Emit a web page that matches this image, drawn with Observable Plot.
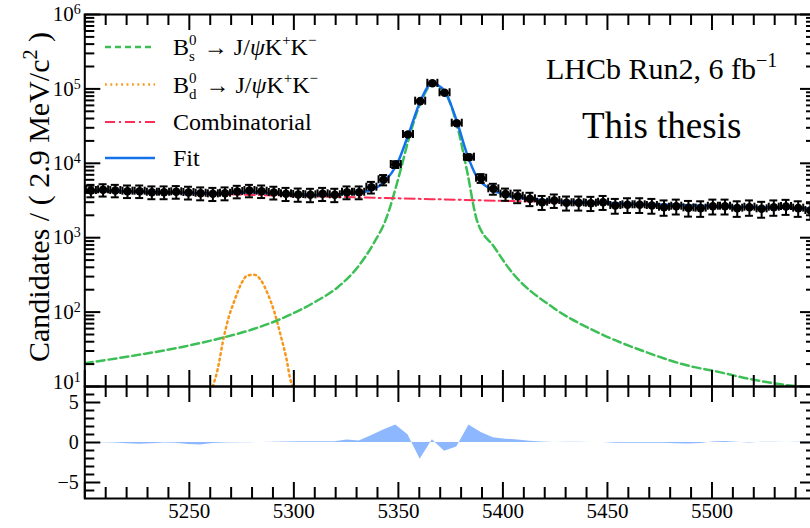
<!DOCTYPE html>
<html>
<head>
<meta charset="utf-8">
<script src="https://cdn.jsdelivr.net/npm/d3@7"></script>
<script src="https://cdn.jsdelivr.net/npm/@observablehq/plot@0.6"></script>
<style>
  html, body { margin: 0; padding: 0; background: #fff; }
  #chart { position: relative; width: 810px; height: 528px; overflow: hidden; background: #fff; }
  #overlay { position: absolute; left: 0; top: 0; pointer-events: none; }
</style>
</head>
<body>
<div id="chart"></div>
<script>
// ---- Binned candidates (bin centres in MeV/c^2) ----
const binCenters = [
  5202.92, 5208.75, 5214.58, 5220.42, 5226.25, 5232.08, 5237.92, 5243.75, 5249.58, 5255.42,
  5261.25, 5267.08, 5272.92, 5278.75, 5284.58, 5290.42, 5296.25, 5302.08, 5307.92, 5313.75,
  5319.58, 5325.42, 5331.25, 5337.08, 5342.92, 5348.75, 5354.58, 5360.42, 5366.25, 5372.08,
  5377.92, 5383.75, 5389.58, 5395.42, 5401.25, 5407.08, 5412.92, 5418.75, 5424.58, 5430.42,
  5436.25, 5442.08, 5447.92, 5453.75, 5459.58, 5465.42, 5471.25, 5477.08, 5482.92, 5488.75,
  5494.58, 5500.42, 5506.25, 5512.08, 5517.92, 5523.75, 5529.58, 5535.42, 5541.25, 5547.08
];
const counts = [
  4310, 4400, 4310, 4220, 4220, 4090, 4090, 4140, 4050, 3960,
  3890, 3960, 4180, 4310, 4220, 4050, 3890, 3810, 3770, 3890,
  3775, 4085, 4085, 4775, 6000, 9640, 24400, 68400, 119000, 88700,
  34600, 12080, 6300, 4540, 3850, 3610, 3335, 3000, 3160, 2945,
  2945, 2910, 3000, 2710, 2770, 2770, 2710, 2570, 2650, 2520,
  2495, 2650, 2650, 2495, 2570, 2445, 2570, 2625, 2495, 2320
];
const countErrors = [
  820, 830, 820, 810, 810, 800, 800, 800, 790, 780,
  780, 780, 800, 820, 810, 790, 780, 770, 770, 780,
  770, 800, 800, 850, 950, 1000, 1300, 1700, 1900, 1800,
  1400, 1000, 850, 760, 720, 700, 680, 640, 650, 630,
  630, 630, 640, 610, 620, 620, 610, 600, 600, 600,
  590, 600, 600, 590, 600, 590, 600, 600, 590, 580
];
const pulls = [
  0.0, -0.02, -0.06, -0.15, -0.22, -0.15, -0.05, -0.1, -0.25, -0.3,
  -0.12, -0.06, -0.04, -0.02, 0.0, 0.04, 0.06, 0.08, 0.1, 0.08,
  0.1, 0.3, 0.2, 0.84, 1.55, 2.2, 0.96, -2.1, 0.34, -1.1,
  -0.55, 2.2, 1.25, 0.6, 0.42, 0.3, 0.15, 0.05, 0.0, 0.02,
  0.02, 0.0, 0.0, -0.08, -0.1, -0.1, -0.08, -0.1, -0.15, -0.2,
  -0.12, 0.05, 0.12, 0.02, -0.05, 0.03, 0.02, 0.0, 0.03, 0.05
];
const binHalfWidthShown = 2.4;

// ---- Fit components (mass, candidates) ----
const bsMass  = [5200, 5223.8, 5247.7, 5266.8, 5281.1, 5295.5, 5309.9, 5321, 5330.5, 5338.5, 5343.8, 5351, 5354.9, 5360.5, 5366.5, 5372.5, 5378.1, 5382.8, 5387.6, 5395.9, 5403, 5424.6, 5443.8, 5467.7, 5491.6, 5500, 5518.2, 5537.3, 5550];
const bsYield = [20.6, 26.1, 34.5, 46, 59.7, 85, 136, 216, 401, 870, 1700, 8000, 21000, 64000, 115000, 87000, 32000, 8000, 1700, 745, 382, 112, 56, 29.5, 18.2, 16.4, 12.6, 10.3, 9.5];

const bdMass  = [5261.2, 5263.6, 5266.0, 5268.4, 5271.6, 5274.8, 5277.9, 5281.1, 5284.3, 5287.5, 5290.7, 5293.9, 5296.3, 5298.7, 5299.5];
const bdYield = [10, 17.3, 39.4, 77, 143, 240, 311, 317, 267, 176, 99.7, 46, 24.8, 11.4, 10.3];

const combMass  = [5200, 5250, 5300, 5350, 5400, 5450, 5500, 5550];
const combYield = [4250, 3930, 3650, 3380, 3130, 2890, 2640, 2440];

const fitMass  = [5200, 5215, 5230, 5245, 5260, 5270, 5280, 5290, 5300, 5310, 5320, 5328, 5333.3, 5343, 5349.4, 5354.9, 5360.5, 5366.1, 5368.5, 5372.5, 5378.1, 5382.8, 5387.6, 5394, 5402, 5411.5, 5430, 5460, 5500, 5550];
const fitYield = [4300, 4200, 4120, 4050, 4000, 4010, 4080, 3920, 3800, 3760, 3800, 3920, 4085, 5570, 9840, 24900, 68400, 119000, 114500, 90400, 35600, 13400, 6500, 4540, 3690, 3335, 3090, 2880, 2660, 2455];

// ---- Axis ticks ----
const massLabels = [5250, 5300, 5350, 5400, 5450, 5500];
const massMajor = [5200, 5250, 5300, 5350, 5400, 5450, 5500, 5550];
const massMinor = d3.range(5210, 5550, 10).filter(v => v % 50 !== 0);
const decades = [10, 100, 1000, 10000, 100000, 1000000];
const decadeMinor = decades.slice(0, 5).flatMap(d => [2, 3, 4, 5, 6, 7, 8, 9].map(k => k * d));
const pullLabels = [-5, 0, 5];
const pullMinor = [-6, -4, -3, -2, -1, 1, 2, 3, 4, 6];

const SERIF = '"Liberation Serif", "Times New Roman", "DejaVu Serif", serif';
const GREEN = "#3cbf55", ORANGE = "#f7981d", RED = "#ff2d55", BLUE = "#1473ec", PULL = "#8db8ff";
const X_DOMAIN = [5200, 5550];

const bins = binCenters.map((m, i) => ({m, n: counts[i], e: countErrors[i], p: pulls[i]}));
const toRows = (ms, vs) => ms.map((m, i) => ({m, v: vs[i]}));

// inward-pointing frame ticks
function frameTicks(xLo, xHi, yLo, yHi, yMaj, yMin, xMaj, xMin) {
  const s = {stroke: "black", strokeWidth: 2};
  return [
    Plot.ruleY(yMaj, {x1: xLo, x2: xLo, insetRight: -16, ...s}),
    Plot.ruleY(yMin, {x1: xLo, x2: xLo, insetRight: -10, ...s}),
    Plot.ruleY(yMaj, {x1: xHi, x2: xHi, insetLeft: -16, ...s}),
    Plot.ruleY(yMin, {x1: xHi, x2: xHi, insetLeft: -10, ...s}),
    Plot.ruleX(xMaj, {y1: yHi, y2: yHi, insetBottom: -16, ...s}),
    Plot.ruleX(xMin, {y1: yHi, y2: yHi, insetBottom: -11, ...s}),
    Plot.ruleX(xMaj, {y1: yLo, y2: yLo, insetTop: -16, ...s}),
    Plot.ruleX(xMin, {y1: yLo, y2: yLo, insetTop: -11, ...s})
  ];
}

const topPanel = Plot.plot({
  width: 816, height: 400,
  marginTop: 14, marginBottom: 14, marginLeft: 84.3, marginRight: 0,
  style: {background: "transparent", overflow: "visible", maxWidth: "none", position: "absolute", left: "0px", top: "0px", fontFamily: SERIF, fontSize: "21px", color: "black"},
  x: {domain: X_DOMAIN, axis: null, label: null},
  y: {type: "log", domain: [10, 1e6], ticks: decades, tickSize: 0, tickPadding: 4, label: null,
      tickFormat: d => String(Math.round(Math.log10(d)))},
  marks: [
    Plot.line(toRows(bdMass, bdYield), {x: "m", y: "v", stroke: ORANGE, strokeWidth: 2.5, strokeDasharray: "1.8,3.6", curve: "monotone-x", clip: true}),
    Plot.line(toRows(bsMass, bsYield), {x: "m", y: "v", stroke: GREEN, strokeWidth: 2.5, strokeDasharray: "8,4", curve: "monotone-x", clip: true}),
    Plot.line(toRows(combMass, combYield), {x: "m", y: "v", stroke: RED, strokeWidth: 2, strokeDasharray: "10,4,2,4", curve: "monotone-x", clip: true}),
    Plot.line(toRows(fitMass, fitYield), {x: "m", y: "v", stroke: BLUE, strokeWidth: 2.5, curve: "monotone-x", clip: true}),
    // error bars with end caps
    Plot.ruleY(bins, {y: "n", x1: d => d.m - binHalfWidthShown, x2: d => d.m + binHalfWidthShown, stroke: "black", strokeWidth: 2}),
    Plot.ruleX(bins, {x: d => d.m - binHalfWidthShown, y1: "n", y2: "n", insetTop: -4, insetBottom: -4, stroke: "black", strokeWidth: 2}),
    Plot.ruleX(bins, {x: d => d.m + binHalfWidthShown, y1: "n", y2: "n", insetTop: -4, insetBottom: -4, stroke: "black", strokeWidth: 2}),
    Plot.ruleX(bins, {x: "m", y1: d => d.n - d.e, y2: d => d.n + d.e, stroke: "black", strokeWidth: 2}),
    Plot.ruleY(bins, {y: d => d.n + d.e, x1: "m", x2: "m", insetLeft: -4, insetRight: -4, stroke: "black", strokeWidth: 2}),
    Plot.ruleY(bins, {y: d => d.n - d.e, x1: "m", x2: "m", insetLeft: -4, insetRight: -4, stroke: "black", strokeWidth: 2}),
    Plot.dot(bins, {x: "m", y: "n", r: 4.3, fill: "black", stroke: "none"}),
    ...frameTicks(5200, 5550, 10, 1e6, decades, decadeMinor, massMajor, massMinor),
    Plot.frame({stroke: "black", strokeWidth: 2})
  ]
});

// write decade labels as 10 with a raised exponent; the lowest one sits a little
// higher so it clears the "5" of the pull panel below it
d3.select(topPanel).selectAll('[aria-label^="y-axis"] text').each(function () {
  const exp = this.textContent;
  const t = d3.select(this);
  t.text("10");
  t.append("tspan").attr("dy", "-0.5em").attr("font-size", "14px").text(exp);
  if (exp === "1") {
    const tr = t.attr("transform");
    if (tr) t.attr("transform", tr + " translate(0,-4)");
    else t.attr("y", (+t.attr("y") || 0) - 4);
  }
});

const pullPanel = Plot.plot({
  width: 816, height: 142,
  marginTop: 0, marginBottom: 30, marginLeft: 84.3, marginRight: 0,
  style: {background: "transparent", overflow: "visible", maxWidth: "none", position: "absolute", left: "0px", top: "386px", fontFamily: SERIF, fontSize: "21px", color: "black"},
  x: {domain: X_DOMAIN, ticks: massLabels, tickSize: 0, tickPadding: 5, tickFormat: d => String(d), label: null},
  y: {domain: [-7, 7], ticks: pullLabels, tickSize: 0, tickPadding: 6, label: null,
      tickFormat: d => d < 0 ? "\u2212" + (-d) : String(d)},
  marks: [
    Plot.areaY(bins, {x: "m", y: "p", fill: PULL}),
    ...frameTicks(5200, 5550, -7, 7, pullLabels, pullMinor, massMajor, massMinor),
    Plot.frame({stroke: "black", strokeWidth: 2})
  ]
});
d3.select(pullPanel).selectAll('[aria-label^="y-axis"] text').attr("font-size", "20px");

const chart = document.getElementById("chart");
chart.appendChild(topPanel);
chart.appendChild(pullPanel);

// legend, labels and titles
const sup = (s, dy) => `<tspan font-size="15" dy="${dy}">${s}</tspan>`;
function decayText(x, y, sub, subDx) {
  return `<text x="${x}" y="${y}" font-size="24">B${sup("0", -10)}<tspan font-size="15" dx="${subDx}" dy="16">${sub}</tspan><tspan dy="-6" dx="3"> \u2192 J/</tspan><tspan font-style="italic">\u03c8</tspan>K${sup("+", -10)}<tspan dy="10">K</tspan>${sup("\u2212", -10)}</text>`;
}
const overlay = `
<svg id="overlay" width="810" height="528" font-family='${SERIF}' fill="black">
  <line x1="105" x2="155" y1="47" y2="47" stroke="${GREEN}" stroke-width="2.5" stroke-dasharray="6,4"/>
  <line x1="105" x2="155" y1="84.5" y2="84.5" stroke="${ORANGE}" stroke-width="2.5" stroke-dasharray="1.8,3.6"/>
  <line x1="105" x2="155" y1="122" y2="122" stroke="${RED}" stroke-width="2" stroke-dasharray="10,4,2,4"/>
  <line x1="105" x2="155" y1="158" y2="158" stroke="${BLUE}" stroke-width="2.5"/>
  ${decayText(173, 55, "s", -7.5)}
  ${decayText(173, 93, "d", -7.5)}
  <text x="173" y="130" font-size="24">Combinatorial</text>
  <text x="173" y="166" font-size="24">Fit</text>
  <text x="546" y="79" font-size="30">LHCb Run2, 6 fb<tspan font-size="20" dy="-12">\u22121</tspan></text>
  <text x="582" y="138" font-size="37">This thesis</text>
  <text transform="translate(49,197) rotate(-90)" text-anchor="middle" font-size="30">Candidates / ( 2.9 MeV/c<tspan font-size="20" dy="-12">2</tspan><tspan dy="12"> )</tspan></text>
</svg>`;
chart.insertAdjacentHTML("beforeend", overlay);
</script>
</body>
</html>
